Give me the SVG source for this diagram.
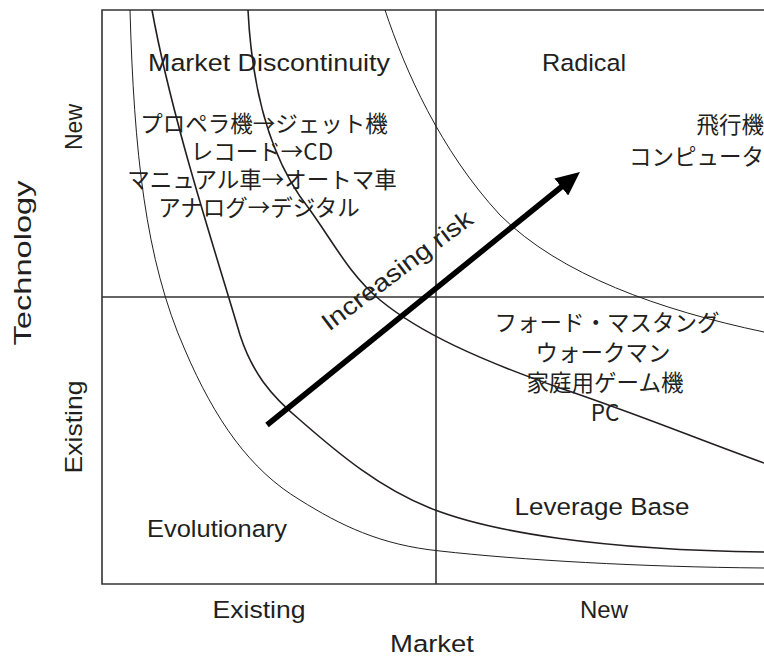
<svg xmlns="http://www.w3.org/2000/svg" width="764" height="657" viewBox="0 0 764 657">
<defs>
<style>
.lat{font-family:"Liberation Sans",Arial,sans-serif;font-size:24.5px;fill:#231f20;text-anchor:middle}
.jp{font-family:"Noto Sans CJK JP","Noto Sans",sans-serif;font-size:22.5px;fill:#231f20;text-anchor:middle}
.frame{fill:none;stroke:#333;stroke-width:1.6}
.thin{fill:none;stroke:#231f20;stroke-width:1}
.thick{fill:none;stroke:#231f20;stroke-width:1.6}
</style>
<marker id="head" markerUnits="userSpaceOnUse" markerWidth="24" markerHeight="22" refX="4.8" refY="11" orient="auto" viewBox="0 0 24 22">
<path d="M0,0 L24,11 L0,22 Z" fill="#000"/>
</marker>
</defs>
<rect width="764" height="657" fill="#fff"/>
<g id="frame">
<path class="frame" d="M766,10 H102 V584 H766 M436,10 V584 M102,297 H766"/>
</g>
<g id="curves">
<path class="thin" d="M130,10 C134,150 145,260 185,350 C215,420 250,470 300,500 C340,525 380,545 440,551 C520,560 640,567 764,568"/>
<path class="thick" d="M152,10 C172,120 215,250 240,335 C252,372 270,395 300,420 C340,455 380,488 430,508 C490,532 600,550 764,552"/>
<path class="thick" d="M248,10 C252,90 270,160 310,210 C335,245 350,275 380,300 C420,333 480,360 560,388 C640,415 700,440 764,463"/>
<path class="thin" d="M385,10 C405,70 440,150 500,215 C560,275 660,310 764,332"/>
</g>
<g id="arrow">
<line x1="267" y1="425" x2="565" y2="184" stroke="#000" stroke-width="5.5" marker-end="url(#head)"/>
</g>
<g id="quadrant-market-discontinuity">
<text class="lat" x="269" y="71" textLength="242" lengthAdjust="spacingAndGlyphs">Market Discontinuity</text>
<text class="jp" x="264" y="132">プロペラ機→ジェット機</text>
<text class="jp" x="262" y="160">レコード→CD</text>
<text class="jp" x="262" y="188">マニュアル車→オートマ車</text>
<text class="jp" x="259" y="216">アナログ→デジタル</text>
</g>
<g id="quadrant-radical">
<text class="lat" x="584" y="71" textLength="84" lengthAdjust="spacingAndGlyphs">Radical</text>
<text class="jp" x="764" y="133" style="text-anchor:end">飛行機</text>
<text class="jp" x="764" y="165" style="text-anchor:end">コンピュータ</text>
</g>
<g id="quadrant-leverage-base">
<text class="jp" x="607" y="331">フォード・マスタング</text>
<text class="jp" x="603" y="361">ウォークマン</text>
<text class="jp" x="605" y="391">家庭用ゲーム機</text>
<text class="jp" x="605" y="421">PC</text>
<text class="lat" x="602" y="515" textLength="175" lengthAdjust="spacingAndGlyphs">Leverage Base</text>
</g>
<g id="quadrant-evolutionary">
<text class="lat" x="217" y="537" textLength="140" lengthAdjust="spacingAndGlyphs">Evolutionary</text>
</g>
<g id="risk-label">
<text class="lat" transform="translate(402,277) rotate(-37)" textLength="182" lengthAdjust="spacingAndGlyphs">Increasing risk</text>
</g>
<g id="axis-labels">
<text class="lat" x="259" y="618" textLength="93" lengthAdjust="spacingAndGlyphs">Existing</text>
<text class="lat" x="604" y="618" textLength="48" lengthAdjust="spacingAndGlyphs">New</text>
<text class="lat" x="432" y="652" textLength="84" lengthAdjust="spacingAndGlyphs">Market</text>
<text class="lat" transform="translate(82,127) rotate(-90)" textLength="46" lengthAdjust="spacingAndGlyphs">New</text>
<text class="lat" transform="translate(31,263) rotate(-90)" textLength="165" lengthAdjust="spacingAndGlyphs">Technology</text>
<text class="lat" transform="translate(82,427) rotate(-90)" textLength="93" lengthAdjust="spacingAndGlyphs">Existing</text>
</g>
</svg>
